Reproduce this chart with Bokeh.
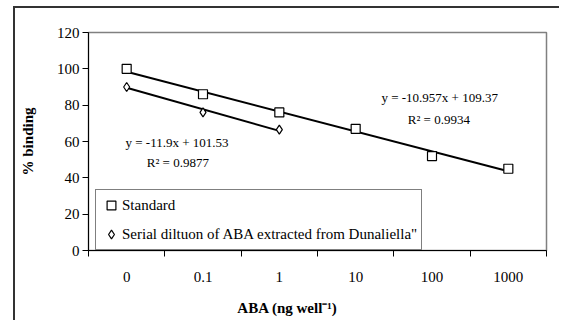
from bokeh.plotting import figure
from bokeh.models import FixedTicker, Legend, LegendItem, Label, Range1d
from bokeh.embed import file_html
from bokeh.resources import INLINE

# ---- data ----
categories = ["0", "0.1", "1", "10", "100", "1000"]
standard = [100, 86, 76, 67, 52, 45]
serial = [90, 76, 66.5]
std_slope, std_intercept = -10.957, 109.37
ser_slope, ser_intercept = -11.9, 101.53
std_r2 = "0.9934"
ser_r2 = "0.9877"
y_ticks = [0, 20, 40, 60, 80, 100, 120]

x_std = list(range(1, len(standard) + 1))
x_ser = list(range(1, len(serial) + 1))

FONT = "'Liberation Serif', 'Times New Roman', serif"

p = figure(width=546, height=314, x_range=Range1d(0.5, len(categories) + 0.5),
           y_range=Range1d(0, 120), output_backend="svg", toolbar_location=None,
           min_border_left=73, min_border_right=15, min_border_top=24, min_border_bottom=72)
p.margin = (8, 0, 0, 15)
p.styles = {"box-shadow": "-2px -2px 0px 0px #333"}

p.xgrid.visible = False
p.ygrid.visible = False
p.outline_line_color = "#808080"
p.outline_line_width = 1.5
p.background_fill_color = "white"
p.border_fill_color = "white"

# y axis
ya = p.yaxis[0]
ya.ticker = FixedTicker(ticks=y_ticks)
ya.major_tick_out = 6
ya.major_tick_in = 0
ya.minor_tick_out = 0
ya.minor_tick_in = 0
ya.axis_line_color = "black"
ya.major_tick_line_color = "black"
ya.major_label_text_font = FONT
ya.major_label_text_font_size = "15px"
ya.major_label_text_color = "black"
ya.major_label_standoff = 3
ya.axis_label = "% binding"
ya.axis_label_text_font = FONT
ya.axis_label_text_font_size = "15px"
ya.axis_label_text_font_style = "bold"
ya.axis_label_text_color = "black"
ya.axis_label_standoff = 18

# x axis (categories, ticks between categories)
xa = p.xaxis[0]
xa.ticker = FixedTicker(ticks=x_std, minor_ticks=[i + 0.5 for i in range(0, len(categories) + 1)])
xa.major_tick_out = 0
xa.major_tick_in = 0
xa.minor_tick_out = 6
xa.minor_tick_in = 0
xa.minor_tick_line_color = "black"
xa.axis_line_color = "black"
xa.major_label_overrides = {i + 1: c for i, c in enumerate(categories)}
xa.major_label_text_font = FONT
xa.major_label_text_font_size = "15px"
xa.major_label_text_color = "black"
xa.major_label_standoff = 15
xa.axis_label = "ABA (ng well\u207b\u00b9)" + "\u00a0" * 16
xa.axis_label_text_font = FONT
xa.axis_label_text_font_size = "15px"
xa.axis_label_text_font_style = "bold"
xa.axis_label_text_color = "black"
xa.axis_label_standoff = 15

# trend lines
x0s, x1s = x_std[0], x_std[-1]
p.line([x0s, x1s], [std_slope * x0s + std_intercept, std_slope * x1s + std_intercept],
       line_color="black", line_width=2)
x0d, x1d = x_ser[0], x_ser[-1]
p.line([x0d, x1d], [ser_slope * x0d + ser_intercept, ser_slope * x1d + ser_intercept],
       line_color="black", line_width=2)

sq = p.scatter(x_std, standard, marker="square", size=9, fill_color="white",
               line_color="black", line_width=1.2)
dm = p.scatter(x_ser, serial, marker="diamond", size=9, fill_color="white",
               line_color="black", line_width=1.2)

legend = Legend(items=[LegendItem(label="Standard", renderers=[sq]),
                       LegendItem(label='Serial diltuon of ABA extracted from Dunaliella"', renderers=[dm])],
                location=(7, 0))
legend.border_line_color = "black"
legend.border_line_width = 1.5
legend.background_fill_color = "white"
legend.background_fill_alpha = 1
legend.label_text_font = FONT
legend.label_text_font_size = "15px"
legend.label_text_color = "black"
legend.glyph_width = 22
legend.glyph_height = 22
legend.label_height = 22
legend.label_standoff = -5
legend.padding = 4
legend.spacing = 7
legend.margin = 0
p.add_layout(legend)

# equation labels
def lab(x, y, text, size="13px", style="normal"):
    p.add_layout(Label(x=x, y=y, text=text, text_font=FONT, text_font_size=size,
                       text_font_style=style, text_align="center", text_baseline="middle",
                       text_color="black"))

lab(5.1, 84.4, "y = -10.957x + 109.37")
lab(5.09, 72.1, "R\u00b2 = 0.9934")
lab(1.66, 59.6, "y = -11.9x + 101.53")
lab(1.67, 48.6, "R\u00b2 = 0.9877")

open("out.html", "w").write(file_html(p, INLINE))
